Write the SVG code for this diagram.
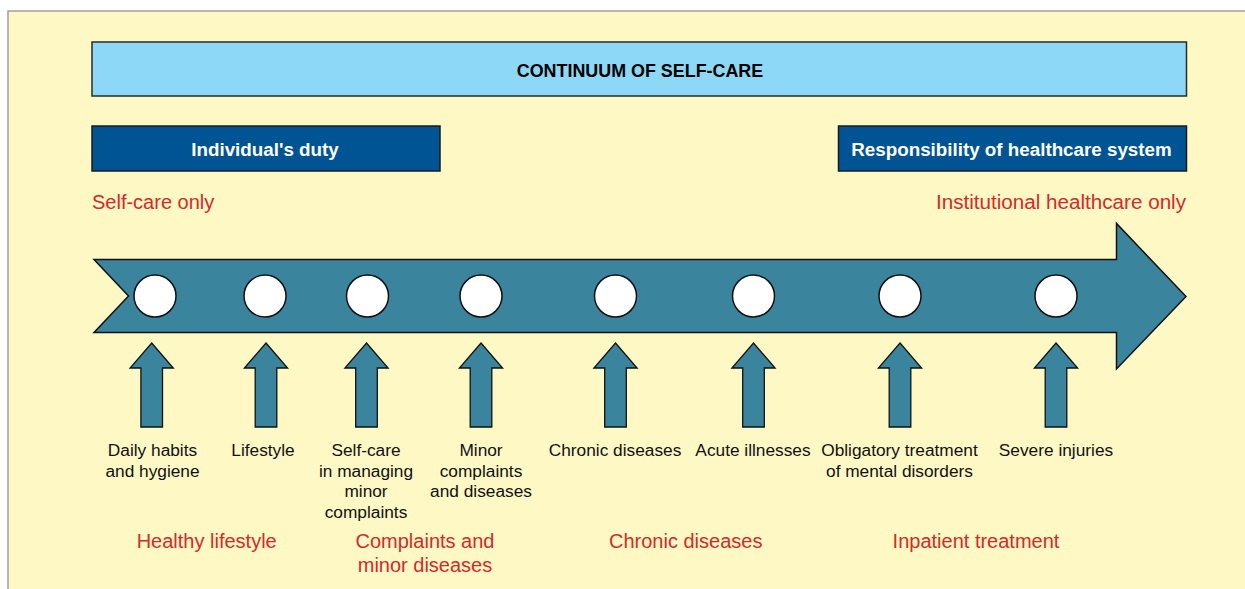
<svg xmlns="http://www.w3.org/2000/svg" width="1245" height="589" viewBox="0 0 1245 589">
  <style>
    .panel { fill: #FEF8C5; stroke: #A0A0A0; stroke-width: 1.5; }
    .bar { fill: #8DD8F6; stroke: #2A2A2A; stroke-width: 1.5; }
    .duty { fill: #005494; stroke: #1A1A1A; stroke-width: 1.5; }
    .band { fill: #3A849E; stroke: #111; stroke-width: 1.5; stroke-linejoin: miter; }
    .dot { fill: #FFFFFF; stroke: #111; stroke-width: 1.5; }
    .up { fill: #3A849E; stroke: #111; stroke-width: 1.3; }
    .title { font-family: "Liberation Sans", Arial, sans-serif; font-weight: bold; font-size: 17.9px; fill: #000; text-anchor: middle; }
    .boxlabel { font-family: "Liberation Sans", Arial, sans-serif; font-weight: bold; font-size: 18.8px; fill: #FFFFFF; text-anchor: middle; }
    .item { font-family: "Liberation Sans", Arial, sans-serif; font-size: 17.3px; fill: #111; text-anchor: middle; }
    .cat { font-family: "Liberation Sans", Arial, sans-serif; font-size: 20px; fill: #D22B2B; }
  </style>

  <!-- background panel -->
  <rect x="0" y="0" width="1245" height="589" fill="#FFFFFF"/>
  <rect class="panel" x="8" y="11" width="1250" height="600"/>

  <!-- heading bar -->
  <g id="header">
    <rect class="bar" x="92" y="42" width="1094.5" height="54"/>
    <text class="title" x="640" y="77">CONTINUUM OF SELF-CARE</text>
  </g>

  <!-- responsibility boxes -->
  <g id="individual-duty">
    <rect class="duty" x="92" y="126" width="348" height="45"/>
    <text class="boxlabel" x="265" y="156">Individual's duty</text>
  </g>
  <g id="system-responsibility">
    <rect class="duty" x="838.5" y="126" width="348" height="45"/>
    <text class="boxlabel" x="1011.5" y="156">Responsibility of healthcare system</text>
  </g>

  <!-- end-point captions -->
  <g id="self-care-only">
    <text class="cat" x="92" y="209">Self-care only</text>
  </g>
  <g id="institutional-only">
    <text class="cat" x="936" y="209" textLength="250" lengthAdjust="spacingAndGlyphs">Institutional healthcare only</text>
  </g>

  <!-- the continuum band -->
  <g id="continuum">
    <path class="band" d="M94,259.5 L1116.5,259.5 L1116.5,223.5 L1186,296.5 L1116.5,369 L1116.5,332.5 L94,332.5 L128.5,296 Z"/>
  </g>

  <!-- feeding arrows -->
  <g id="connectors">
    <path class="up" d="M151.7,343 L173.3,368 L162.5,368 L162.5,427 L140.9,427 L140.9,368 L130.1,368 Z"/>
    <path class="up" d="M266,343 L287.6,368 L276.8,368 L276.8,427 L255.2,427 L255.2,368 L244.4,368 Z"/>
    <path class="up" d="M366.5,343 L388.1,368 L377.3,368 L377.3,427 L355.7,427 L355.7,368 L344.9,368 Z"/>
    <path class="up" d="M481,343 L502.6,368 L491.8,368 L491.8,427 L470.2,427 L470.2,368 L459.4,368 Z"/>
    <path class="up" d="M615.5,343 L637.1,368 L626.3,368 L626.3,427 L604.7,427 L604.7,368 L593.9,368 Z"/>
    <path class="up" d="M753.5,343 L775.1,368 L764.3,368 L764.3,427 L742.7,427 L742.7,368 L731.9,368 Z"/>
    <path class="up" d="M900,343 L921.6,368 L910.8,368 L910.8,427 L889.2,427 L889.2,368 L878.4,368 Z"/>
    <path class="up" d="M1056,343 L1077.6,368 L1066.8,368 L1066.8,427 L1045.2,427 L1045.2,368 L1034.4,368 Z"/>
  </g>

  <!-- stages along the continuum -->
  <g id="stage-daily-habits">
    <circle class="dot" cx="155" cy="296" r="21"/>
    <text class="item" x="152.5" y="456">Daily habits</text>
    <text class="item" x="152.5" y="476.5">and hygiene</text>
  </g>
  <g id="stage-lifestyle">
    <circle class="dot" cx="265" cy="296" r="21"/>
    <text class="item" x="263" y="456">Lifestyle</text>
  </g>
  <g id="stage-self-care">
    <circle class="dot" cx="367.5" cy="296" r="21"/>
    <text class="item" x="366" y="456">Self-care</text>
    <text class="item" x="366" y="476.5">in managing</text>
    <text class="item" x="366" y="497">minor</text>
    <text class="item" x="366" y="517.5">complaints</text>
  </g>
  <g id="stage-minor-complaints">
    <circle class="dot" cx="481" cy="296" r="21"/>
    <text class="item" x="481" y="456">Minor</text>
    <text class="item" x="481" y="476.5">complaints</text>
    <text class="item" x="481" y="497">and diseases</text>
  </g>
  <g id="stage-chronic">
    <circle class="dot" cx="615.5" cy="296" r="21"/>
    <text class="item" x="615" y="456">Chronic diseases</text>
  </g>
  <g id="stage-acute">
    <circle class="dot" cx="753.5" cy="296" r="21"/>
    <text class="item" x="753" y="456">Acute illnesses</text>
  </g>
  <g id="stage-mental">
    <circle class="dot" cx="900" cy="296" r="21"/>
    <text class="item" x="899.5" y="456">Obligatory treatment</text>
    <text class="item" x="899.5" y="476.5">of mental disorders</text>
  </g>
  <g id="stage-injuries">
    <circle class="dot" cx="1056" cy="296" r="21"/>
    <text class="item" x="1056" y="456">Severe injuries</text>
  </g>

  <!-- category captions -->
  <g id="cat-healthy">
    <text class="cat" x="206.7" y="548" text-anchor="middle">Healthy lifestyle</text>
  </g>
  <g id="cat-complaints">
    <text class="cat" x="425" y="548" text-anchor="middle">Complaints and</text>
    <text class="cat" x="425" y="571.5" text-anchor="middle">minor diseases</text>
  </g>
  <g id="cat-chronic">
    <text class="cat" x="685.7" y="548" text-anchor="middle">Chronic diseases</text>
  </g>
  <g id="cat-inpatient">
    <text class="cat" x="976" y="548" text-anchor="middle">Inpatient treatment</text>
  </g>
</svg>
